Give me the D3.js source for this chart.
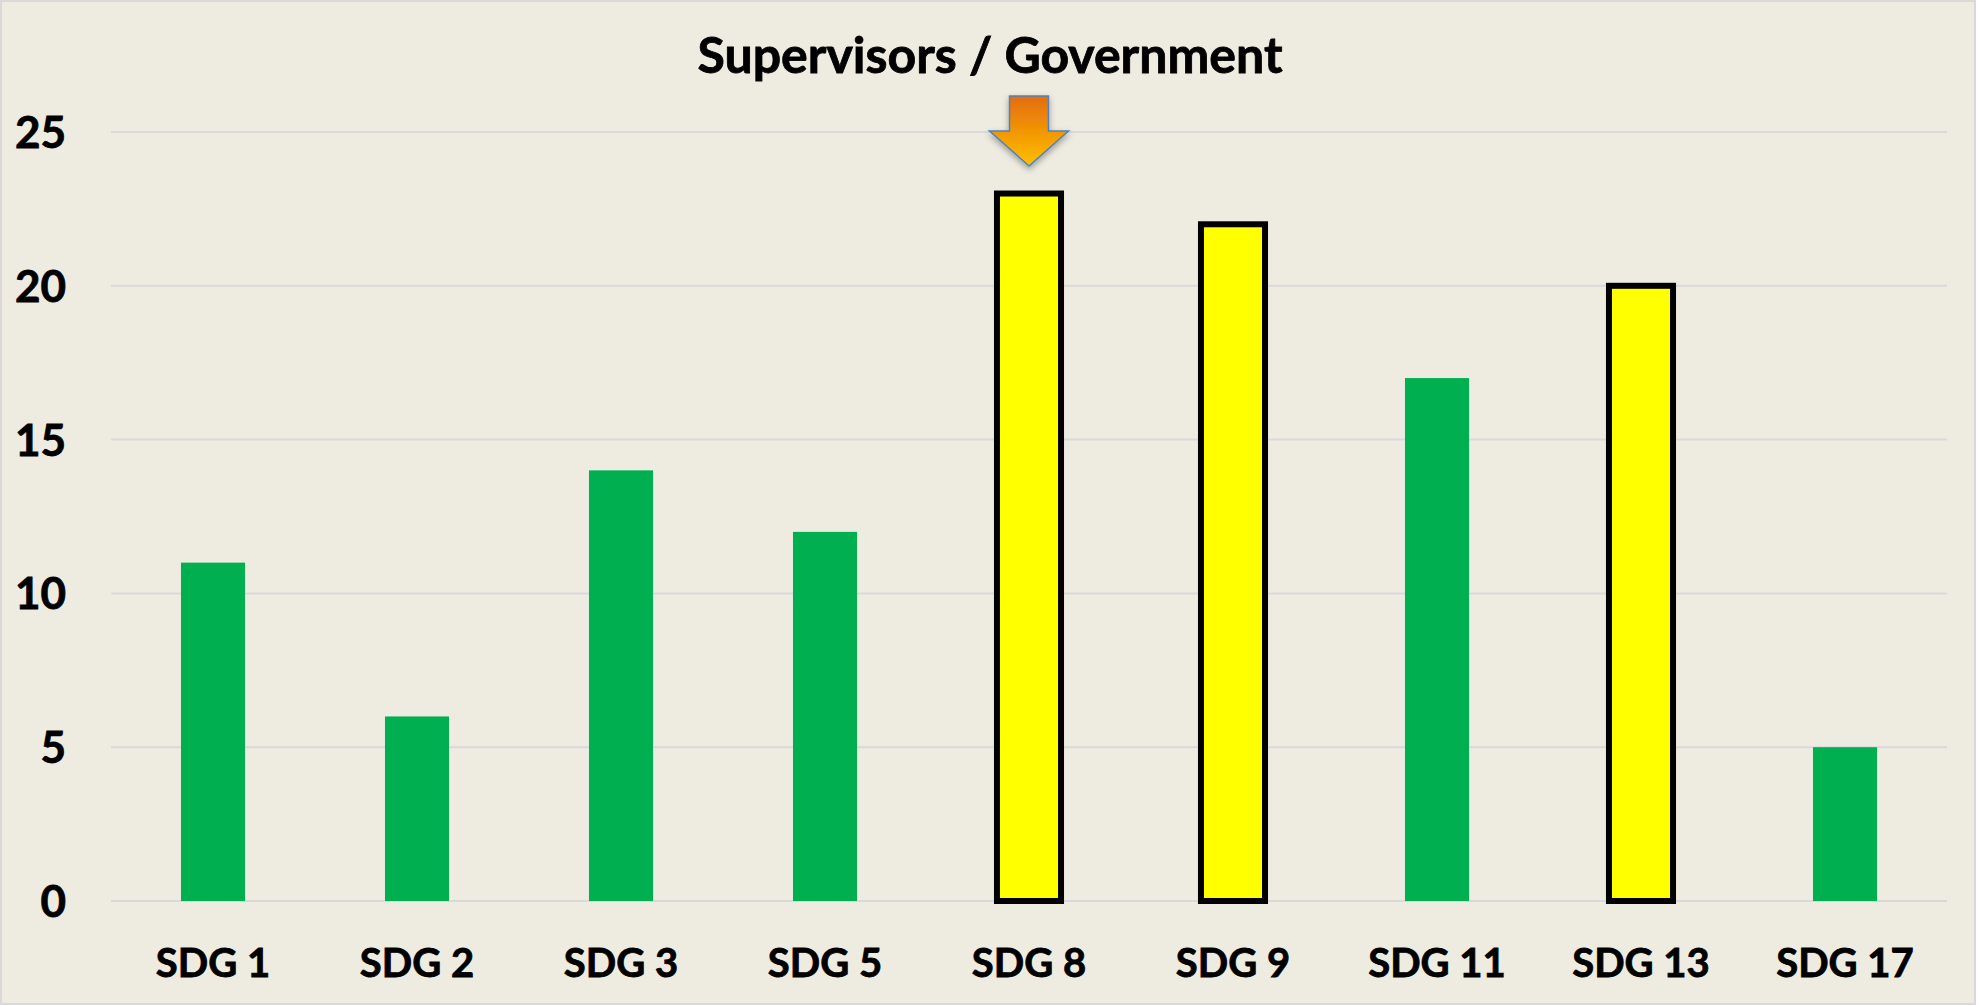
<!DOCTYPE html>
<html><head><meta charset="utf-8">
<script src="https://cdn.jsdelivr.net/npm/d3@7"></script>
<style>html,body{margin:0;padding:0;background:#fff;overflow:hidden}</style>
</head><body>
<svg id="c" width="1978" height="1006"></svg>
<script>
const categories = ["SDG 1","SDG 2","SDG 3","SDG 5","SDG 8","SDG 9","SDG 11","SDG 13","SDG 17"];
const values = [11, 6, 14, 12, 23, 22, 17, 20, 5];
const highlighted = ["SDG 8","SDG 9","SDG 13"];
const arrowOn = "SDG 8";
const yTicks = [0, 5, 10, 15, 20, 25];
const title = "Supervisors / Government";

const W = 1978, H = 1006;
const m = {left: 111, right: 31, top: 132, bottom: 105};
const svg = d3.select("#c");
const FONT = "Lato, 'Open Sans', sans-serif";

const defs = svg.append("defs");
const grad = defs.append("linearGradient").attr("id","ag").attr("x1",0).attr("y1",0).attr("x2",0).attr("y2",1);
grad.append("stop").attr("offset","0%").attr("stop-color","#E46C0A");
grad.append("stop").attr("offset","100%").attr("stop-color","#FFC000");
const f = defs.append("filter").attr("id","sh").attr("x","-30%").attr("y","-30%").attr("width","160%").attr("height","160%");
f.append("feDropShadow").attr("dx",0).attr("dy",3).attr("stdDeviation",3).attr("flood-color","#000").attr("flood-opacity",0.35);

svg.append("rect").attr("x",1).attr("y",1).attr("width",W-4).attr("height",H-3)
  .attr("fill","#EEECE1").attr("stroke","#D9D9D9").attr("stroke-width",2);

const x = d3.scaleBand().domain(categories).range([m.left, W - m.right]).paddingInner(0.686).paddingOuter(0.343);
const y = d3.scaleLinear().domain([0, 25]).range([H - m.bottom, m.top]);

// gridlines
svg.append("g").selectAll("line").data(yTicks).join("line")
  .attr("x1", m.left).attr("x2", W - m.right)
  .attr("y1", d => y(d)).attr("y2", d => y(d))
  .attr("stroke", "#D9D9D9").attr("stroke-width", 2);

// y axis labels
const yAxis = d3.axisLeft(y).tickValues(yTicks).tickSize(0).tickPadding(0);
const yg = svg.append("g").attr("transform", `translate(66,0)`).call(yAxis);
yg.select(".domain").remove();
yg.selectAll("text").attr("font-family", FONT).attr("font-weight", 700).attr("font-size", 44)
  .attr("fill","#000").attr("stroke","#000").attr("stroke-width",0.8).attr("dy","0.35em");

// bars
svg.append("g").selectAll("rect").data(categories).join("rect")
  .attr("x", d => x(d)).attr("width", x.bandwidth())
  .attr("y", (d,i) => y(values[i])).attr("height", (d,i) => y(0) - y(values[i]))
  .attr("fill", d => highlighted.includes(d) ? "#FFFF00" : "#00B050")
  .attr("stroke", d => highlighted.includes(d) ? "#000" : "none")
  .attr("stroke-width", 6)
  .attr("stroke-linejoin", "miter");

// x axis labels
const xAxis = d3.axisBottom(x).tickSize(0).tickPadding(0);
const xg = svg.append("g").attr("transform", `translate(0,${977})`).call(xAxis);
xg.select(".domain").remove();
xg.selectAll("text").attr("font-family", FONT).attr("font-weight", 700).attr("font-size", 40)
  .attr("fill","#000").attr("stroke","#000").attr("stroke-width",0.8).attr("dy", 0);

// title
svg.append("text").attr("x", 990).attr("y", 73).attr("text-anchor","middle")
  .attr("font-family", FONT).attr("font-weight", 700).attr("font-size", 50)
  .attr("fill","#000").attr("stroke","#000").attr("stroke-width",0.8).text(title);

// arrow
const ax = x(arrowOn) + x.bandwidth()/2;
const aTop = 96, aHeadTop = 131, aTip = 166, sh = 19.5, hw = 39.5;
const arrowPts = [[ax-sh,aTop],[ax+sh,aTop],[ax+sh,aHeadTop],[ax+hw,aHeadTop],[ax,aTip],[ax-hw,aHeadTop],[ax-sh,aHeadTop]];
svg.append("path").attr("d", d3.line()(arrowPts) + "Z")
  .attr("fill","url(#ag)").attr("stroke","#4F81BD").attr("stroke-width",1.5).attr("filter","url(#sh)");
</script>
</body></html>
